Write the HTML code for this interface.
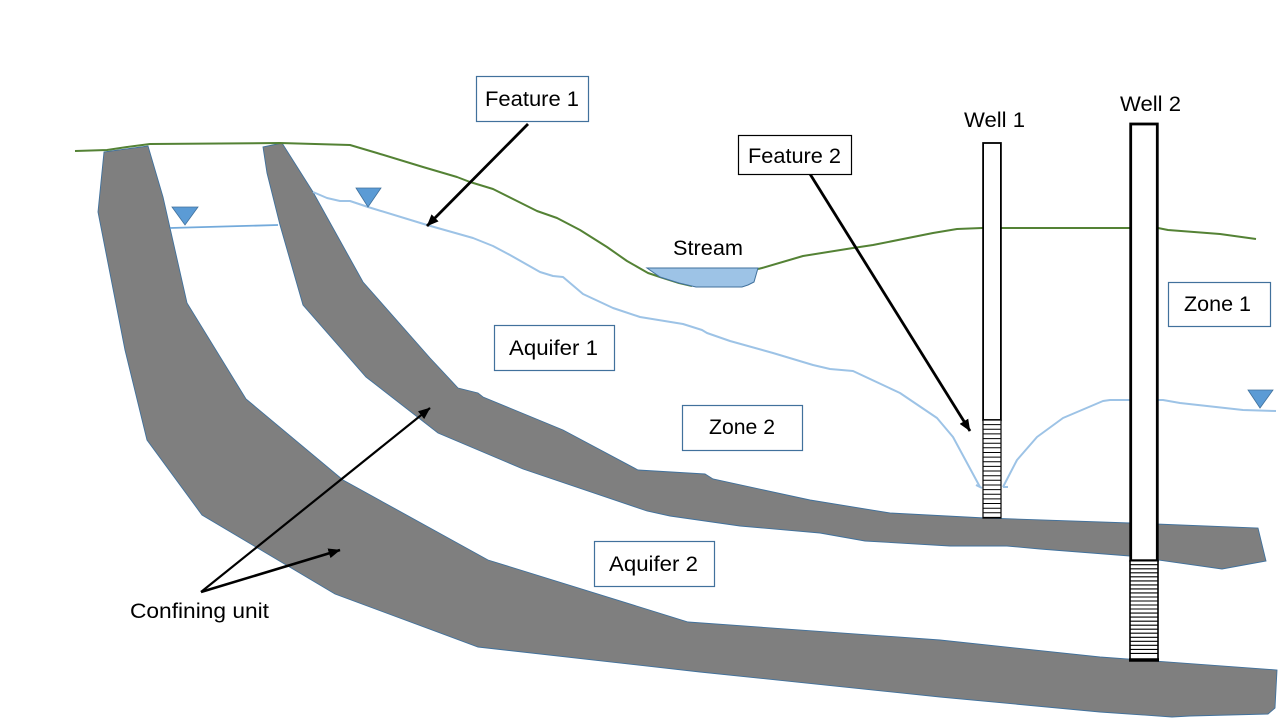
<!DOCTYPE html>
<html><head><meta charset="utf-8"><style>
html,body{margin:0;padding:0;background:#fff;width:1280px;height:720px;overflow:hidden}
svg{display:block}
text{font-family:"Liberation Sans",sans-serif;font-size:21px;fill:#000}
</style></head><body>
<svg width="1280" height="720" viewBox="0 0 1280 720" xmlns="http://www.w3.org/2000/svg">
<defs><marker id="a" markerUnits="userSpaceOnUse" markerWidth="12" markerHeight="10" refX="11.500" refY="5" orient="auto"><path d="M0 0L12 5L0 10z" fill="#000"/></marker></defs>
<rect width="1280" height="720" fill="#fff"/>
<!-- bands -->
<path d="M104 152L148 146L163 197L187 303L246 399L343 480L488 560L688 622L940 640L1100 657L1277 670L1275 708L1268 714L1190 716L1172 717L1100 712L940 697L700 672L478 647L335 594L202 515L147 440L125 350L98 212Z" fill="#7f7f7f" stroke="#41719c" stroke-width=".9"/>
<path d="M263 147L282 143L313 192L363 282L430 358L458 388L478 393L483 397L563 430L638 470L705 474L713 479L810 500L890 513L985 518L1130 523L1258 528L1266 561L1222 569L1130 556L1040 549L1007 546L950 546L865 541L820 533L740 526L670 516L647 511L523 469L438 433L366 377L303 305L280 225L267 173Z" fill="#7f7f7f" stroke="#41719c" stroke-width=".9"/>
<!-- ground -->
<path d="M75 151L107 150L127 147L150 144L280 143L350 145L377 153L423 167L457 177L470 182L493 189L515 200L537 211L557 218L580 230L607 247L627 261L648 273L660 277L679 283L692 286" fill="none" stroke="#548235" stroke-width="2" stroke-linejoin="round"/>
<path d="M758 269L762 268L803 256L853 248L873 245L933 233L957 229L982 228L1129 228L1158 228L1168 230L1220 234L1256 239" fill="none" stroke="#548235" stroke-width="2" stroke-linejoin="round"/>
<!-- stream -->
<path d="M647 268L758 268L754 282L748 285L742 287L696 287L679 283L660 277Z" fill="#9dc3e6" stroke="#41719c" stroke-width="1"/>
<!-- water table -->
<path d="M170 228L278 225" fill="none" stroke="#5b9bd5" stroke-width="1.800" opacity=".85"/>
<path d="M313 192L327 198L340 201L350 201L368 207L427 225L473 238L493 246L510 255L540 272L553 276L563 277L583 294L613 308L640 317L683 324L702 330L707 333L730 341L773 353L813 365L830 369L853 371L900 393L937 418L953 437L980 487M976 485L982 488" fill="none" stroke="#9dc3e6" stroke-width="2" stroke-linejoin="round"/>
<path d="M1003 487L1017 460L1037 437L1063 418L1103 401L1110 400L1163 400L1180 403L1207 406L1243 410L1276 411M1003 487L1008 487" fill="none" stroke="#9dc3e6" stroke-width="2" stroke-linejoin="round"/>
<!-- triangles -->
<path d="M172 207L198 207L185 225Z" fill="#5b9bd5" stroke="#41719c" stroke-width=".8"/>
<path d="M356 188L381 188L368 207Z" fill="#5b9bd5" stroke="#41719c" stroke-width=".8"/>
<path d="M1248 390L1273 390L1260 408Z" fill="#5b9bd5" stroke="#41719c" stroke-width=".8"/>
<!-- well 1 -->
<rect x="983.100" y="143" width="17.800" height="277" fill="#fff" stroke="#000" stroke-width="1.800"/>
<rect x="983" y="420" width="18" height="98" fill="#fff" stroke="#000" stroke-width="1.200"/>
<path d="M983 420H1001M983 424.600H1001M983 429.300H1001M983 433.900H1001M983 438.600H1001M983 443.200H1001M983 447.800H1001M983 452.500H1001M983 457.100H1001M983 461.800H1001M983 466.400H1001M983 471H1001M983 475.700H1001M983 480.300H1001M983 485H1001M983 489.600H1001M983 494.200H1001M983 498.900H1001M983 503.500H1001M983 508.200H1001M983 512.800H1001M983 517.400H1001" stroke="#000" stroke-width="1" fill="none"/>
<!-- well 2 -->
<rect x="1130.700" y="124" width="26.600" height="436.700" fill="#fff" stroke="#000" stroke-width="2.800"/>
<rect x="1130" y="560.700" width="28" height="99" fill="#fff" stroke="#000" stroke-width="1.600"/>
<path d="M1130 560.700H1158M1130 564.700H1158M1130 568.800H1158M1130 572.800H1158M1130 576.800H1158M1130 580.900H1158M1130 584.900H1158M1130 588.900H1158M1130 592.900H1158M1130 597H1158M1130 601H1158M1130 605H1158M1130 609H1158M1130 613.100H1158M1130 617.100H1158M1130 621.200H1158M1130 625.200H1158M1130 629.200H1158M1130 633.200H1158M1130 637.300H1158M1130 641.300H1158M1130 645.300H1158M1130 649.400H1158M1130 653.400H1158" stroke="#000" stroke-width="1.100" fill="none"/>
<path d="M1129 660H1159" stroke="#000" stroke-width="3.400" fill="none"/>
<!-- arrows -->
<g stroke="#000" fill="none">
<path d="M528 124L427 226" stroke-width="2.800" marker-end="url(#a)"/>
<path d="M810 174L970 431" stroke-width="2.800" marker-end="url(#a)"/>
<path d="M201 592L430 408" stroke-width="2.200" marker-end="url(#a)"/>
<path d="M201 592L340 550" stroke-width="2.600" marker-end="url(#a)"/>
</g>
<!-- boxes -->
<g fill="#fff" stroke="#41719c" stroke-width="1.200">
<rect x="476.500" y="76.500" width="112" height="45"/>
<rect x="494.500" y="325.500" width="120" height="45"/>
<rect x="682.500" y="405.500" width="120" height="45"/>
<rect x="594.500" y="541.500" width="120" height="45"/>
<rect x="1168.500" y="282.500" width="102" height="44"/>
</g>
<rect x="738.500" y="135.500" width="113" height="39" fill="#fff" stroke="#000" stroke-width="1.200"/>
<!-- labels -->
<text x="485" y="106" textLength="94" lengthAdjust="spacingAndGlyphs">Feature 1</text>
<text x="748" y="163" textLength="93" lengthAdjust="spacingAndGlyphs">Feature 2</text>
<text x="509" y="355" textLength="89" lengthAdjust="spacingAndGlyphs">Aquifer 1</text>
<text x="709" y="434" textLength="66" lengthAdjust="spacingAndGlyphs">Zone 2</text>
<text x="609" y="571" textLength="89" lengthAdjust="spacingAndGlyphs">Aquifer 2</text>
<text x="1184" y="311" textLength="67" lengthAdjust="spacingAndGlyphs">Zone 1</text>
<text x="673" y="255" textLength="70" lengthAdjust="spacingAndGlyphs">Stream</text>
<text x="964" y="127" textLength="61" lengthAdjust="spacingAndGlyphs">Well 1</text>
<text x="1120" y="111" textLength="61" lengthAdjust="spacingAndGlyphs">Well 2</text>
<text x="130" y="618" textLength="139" lengthAdjust="spacingAndGlyphs">Confining unit</text>
</svg>
</body></html>
